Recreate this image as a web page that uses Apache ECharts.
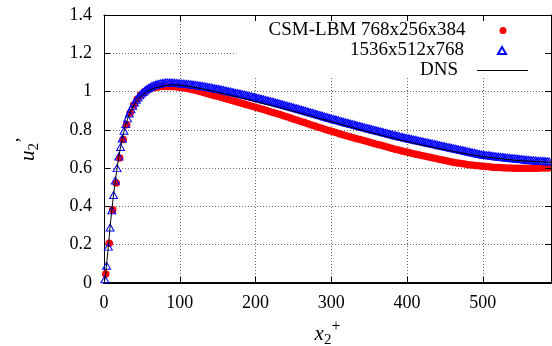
<!DOCTYPE html>
<html><head><meta charset="utf-8">
<script src="https://cdn.jsdelivr.net/npm/echarts@6/dist/echarts.min.js"></script>
<style>html,body{margin:0;padding:0;background:#fff}#c{width:552px;height:346px}</style>
</head><body><div id="c"></div>
<script>
const seriesNames = ['CSM-LBM 768x256x384', '1536x512x768', 'DNS'];
const xTicks = [0, 100, 200, 300, 400, 500];
const yTicks = [0, 0.2, 0.4, 0.6, 0.8, 1, 1.2, 1.4];
// mesh: wall-normal cell centres (x2+) of each grid
const redFirst = 2.3, redStep = 4.6;
const blueFirst = 1.15, blueStep = 2.3;
const redY = [0.047,0.208,0.382,0.522,0.653,0.750,0.827,0.888,0.930,0.960,0.982,0.998,1.008,1.016,1.021,1.024,1.026,1.027,1.027,1.026,
1.025,1.023,1.020,1.017,1.013,1.009,1.005,1.000,0.995,0.990,0.985,0.980,0.975,0.970,0.965,0.960,0.955,0.949,0.944,0.939,
0.934,0.928,0.923,0.918,0.913,0.907,0.902,0.896,0.891,0.885,0.880,0.874,0.868,0.862,0.856,0.850,0.844,0.838,0.832,0.826,
0.820,0.814,0.808,0.802,0.796,0.791,0.786,0.780,0.775,0.769,0.764,0.759,0.754,0.749,0.744,0.739,0.734,0.729,0.724,0.719,
0.714,0.709,0.704,0.699,0.695,0.690,0.686,0.682,0.677,0.673,0.669,0.665,0.661,0.657,0.653,0.649,0.645,0.641,0.637,0.634,
0.630,0.627,0.624,0.621,0.618,0.616,0.614,0.612,0.610,0.608,0.607,0.605,0.604,0.603,0.602,0.601,0.601,0.600,0.600,0.600,
0.600,0.600,0.600,0.600,0.600,0.601,0.601,0.601];
const blueY = [0.02,0.09,0.19,0.29,0.38,0.46,0.535,0.60,0.66,0.71,0.755,0.795,0.83,0.86,0.885,0.907,0.926,0.943,0.957,0.969,
0.98,0.99,0.998,1.006,1.013,1.019,1.024,1.029,1.033,1.036,1.039,1.041,1.043,1.045,1.046,1.047,1.047,1.047,1.047,1.046,
1.046,1.045,1.044,1.043,1.042,1.042,1.041,1.040,1.039,1.038,1.037,1.036,1.035,1.033,1.032,1.030,1.029,1.027,1.026,1.024,
1.022,1.021,1.019,1.017,1.015,1.014,1.012,1.010,1.008,1.006,1.004,1.002,1.000,0.998,0.996,0.994,0.992,0.990,0.988,0.986,
0.984,0.982,0.979,0.977,0.975,0.973,0.971,0.968,0.966,0.964,0.962,0.959,0.957,0.955,0.952,0.950,0.948,0.945,0.943,0.940,
0.938,0.935,0.933,0.930,0.928,0.925,0.923,0.920,0.918,0.915,0.913,0.910,0.907,0.905,0.902,0.900,0.897,0.894,0.892,0.889,
0.886,0.884,0.881,0.878,0.876,0.873,0.870,0.868,0.865,0.862,0.860,0.857,0.855,0.852,0.850,0.847,0.845,0.842,0.840,0.837,
0.835,0.832,0.830,0.828,0.825,0.823,0.820,0.818,0.815,0.813,0.811,0.808,0.806,0.804,0.801,0.799,0.797,0.794,0.792,0.790,
0.787,0.785,0.783,0.780,0.778,0.776,0.773,0.771,0.769,0.767,0.764,0.762,0.760,0.758,0.756,0.754,0.752,0.750,0.748,0.746,
0.744,0.742,0.740,0.738,0.736,0.734,0.732,0.730,0.728,0.726,0.724,0.722,0.720,0.718,0.716,0.714,0.712,0.710,0.708,0.706,
0.704,0.702,0.700,0.698,0.696,0.694,0.692,0.690,0.688,0.686,0.684,0.682,0.680,0.678,0.676,0.674,0.672,0.670,0.669,0.668,
0.667,0.666,0.665,0.663,0.662,0.661,0.660,0.659,0.658,0.657,0.656,0.655,0.654,0.653,0.652,0.651,0.650,0.649,0.648,0.647,
0.646,0.645,0.644,0.643,0.642,0.641,0.641,0.640,0.639,0.638,0.638,0.637,0.637,0.636,0.636,0.635];
const dnsX = [0,1,2,3,4,5,6,7,8,9,10,12,14,16,18,20,22,25,28,31,35,40,45,50,55,60,65,70,75,80,85,90,100,110,120,130,140,160,180,200,230,260,300,340,380,420,460,500,540,590];
const dnsY = [0,0.015,0.045,0.08,0.12,0.16,0.20,0.245,0.29,0.33,0.37,0.44,0.505,0.565,0.62,0.67,0.714,0.77,0.818,0.856,0.895,0.932,0.96,0.98,0.995,1.007,1.016,1.022,1.027,1.031,1.033,1.035,1.033,1.028,1.022,1.014,1.005,0.987,0.968,0.948,0.918,0.886,0.843,0.798,0.757,0.72,0.688,0.66,0.642,0.63];

const FF = 'Liberation Serif';
const redData = redY.map((y, i) => [redFirst + i * redStep, y]);
const blueData = blueY.map((y, i) => [blueFirst + i * blueStep, y]);
const dnsData = dnsX.map((x, i) => [x, dnsY[i]]);

const chart = echarts.init(document.getElementById('c'), null, {renderer: 'canvas'});
const tickStyle = {inside: true, length: 6, lineStyle: {color: '#000', width: 1}};
const gridLine = {show: true, lineStyle: {type: [1, 2], color: '#666', width: 1}};
function legend(name, icon, iw, ih, right, top, padRight) {
  return {
    data: [{name: name, icon: icon}], orient: 'horizontal', align: 'right', right: right, top: top, padding: 0,
    itemWidth: iw, itemHeight: ih, selectedMode: false, z: 8,
    textStyle: {fontFamily: FF, fontSize: 19, color: '#000', lineHeight: 20, padding: [0, padRight, 0, 0]}
  };
}
chart.setOption({
  animation: false,
  backgroundColor: '#fff',
  grid: {left: 104, right: 1, top: 15, bottom: 63, containLabel: false, outerBoundsMode: 'none'},
  graphic: [{type: 'rect', z: 1, shape: {x: 236, y: 16, width: 314, height: 62}, style: {fill: '#fff'}}],
  legend: [
    legend(seriesNames[0], 'circle', 7, 7, 45.5, 20.5, 29),
    legend(seriesNames[1], 'triangle', 8, 7, 45, 40.5, 29),
    legend(seriesNames[2], 'rect', 51, 1, 24, 60.5, 14)
  ],
  xAxis: [{
    type: 'value', min: xTicks[0], max: 590, interval: xTicks[1] - xTicks[0], position: 'bottom', z: 0,
    axisLine: {lineStyle: {color: '#000', width: 2}}, axisTick: tickStyle,
    axisLabel: {showMaxLabel: false, fontFamily: FF, fontSize: 18, color: '#000', margin: 11},
    splitLine: gridLine,
    name: '{v|x}{s|2}{p|+}', nameLocation: 'middle', nameGap: 36,
    nameTextStyle: {fontFamily: FF, color: '#000', fontSize: 20,
      rich: {v: {fontFamily: FF, fontStyle: 'italic', fontSize: 21, color: '#000'},
             s: {fontFamily: FF, fontSize: 15, color: '#000', padding: [12, 0, 0, 0]},
             p: {fontFamily: FF, fontSize: 16, color: '#000', padding: [0, 0, 14, 0]}}}
  }, {
    type: 'value', min: xTicks[0], max: 590, interval: xTicks[1] - xTicks[0], position: 'top', z: 5,
    axisLine: {show: true, onZero: false, lineStyle: {color: '#000', width: 1}}, axisTick: tickStyle,
    axisLabel: {show: false}, splitLine: {show: false}
  }],
  yAxis: [{
    type: 'value', min: yTicks[0], max: yTicks[yTicks.length - 1], interval: yTicks[1] - yTicks[0], position: 'left', z: 0,
    axisLine: {show: true, lineStyle: {color: '#000', width: 1}}, axisTick: tickStyle,
    axisLabel: {fontFamily: FF, fontSize: 18, color: '#000', margin: 12},
    splitLine: gridLine,
    name: '{v|u}{s|2}{p|\u2019}', nameLocation: 'middle', nameGap: 62, nameRotate: 90,
    nameTextStyle: {fontFamily: FF, color: '#000', fontSize: 20,
      rich: {v: {fontFamily: FF, fontStyle: 'italic', fontSize: 21, color: '#000'},
             s: {fontFamily: FF, fontSize: 15, color: '#000', padding: [12, 0, 0, 0]},
             p: {fontFamily: FF, fontSize: 18, color: '#000', padding: [0, 0, 8, 0]}}}
  }, {
    type: 'value', min: yTicks[0], max: yTicks[yTicks.length - 1], interval: yTicks[1] - yTicks[0], position: 'right', z: 5,
    axisLine: {show: true, onZero: false, lineStyle: {color: '#000', width: 1}}, axisTick: tickStyle,
    axisLabel: {show: false}, splitLine: {show: false}
  }],
  series: [{
    name: seriesNames[0], type: 'scatter', data: redData, symbol: 'circle', symbolSize: 7.5, z: 2,
    itemStyle: {color: '#ff0000', opacity: 1}
  }, {
    name: seriesNames[1], type: 'scatter', data: blueData, symbol: 'triangle', symbolSize: [8, 7], z: 3,
    itemStyle: {color: 'rgba(255,255,255,0)', borderColor: '#0000ff', borderWidth: 1, opacity: 1}
  }, {
    name: seriesNames[2], type: 'line', data: dnsData, symbol: 'none', showSymbol: false, z: 4,
    lineStyle: {color: '#000', width: 1}, itemStyle: {color: '#000'}
  }]
});
</script></body></html>
